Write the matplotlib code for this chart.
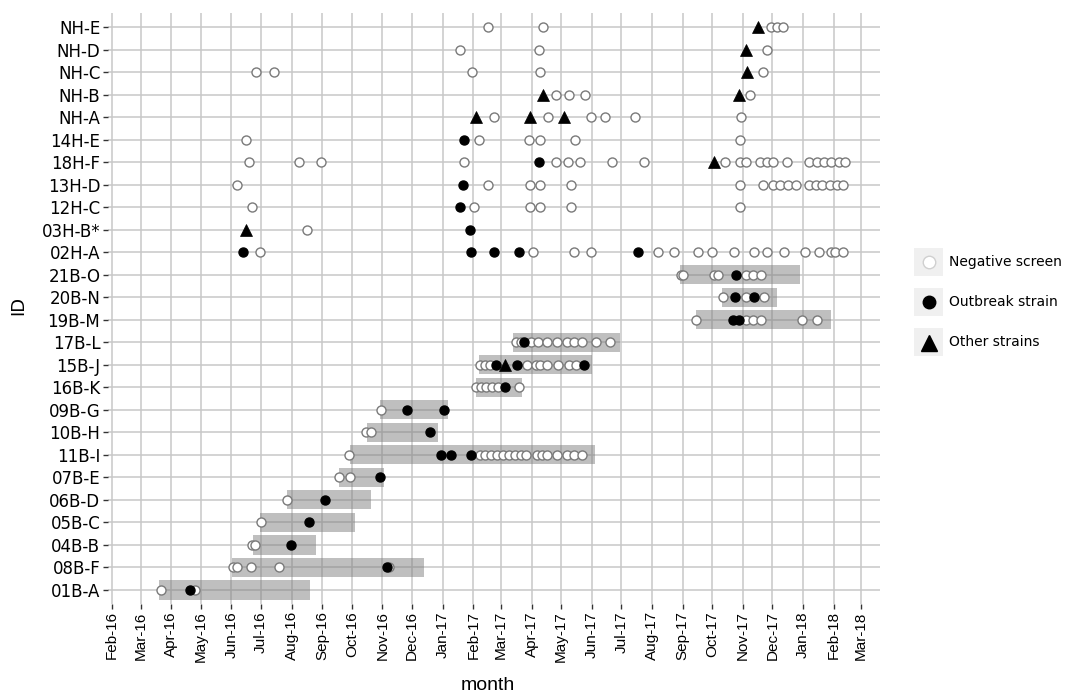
import matplotlib
matplotlib.use('Agg')
import matplotlib.pyplot as plt
import matplotlib.dates as mdates
from matplotlib.patches import Rectangle
import pandas as pd

# rows, bottom to top
ids = ['01B-A', '08B-F', '04B-B', '05B-C', '06B-D', '07B-E', '11B-I', '10B-H', '09B-G',
       '16B-K', '15B-J', '17B-L', '19B-M', '20B-N', '21B-O', '02H-A', '03H-B*', '12H-C',
       '13H-D', '18H-F', '14H-E', 'NH-A', 'NH-B', 'NH-C', 'NH-D', 'NH-E']

# admission periods (grey bars)
stay_ids = ['01B-A', '08B-F', '04B-B', '05B-C', '06B-D', '07B-E', '11B-I', '10B-H',
            '09B-G', '16B-K', '15B-J', '17B-L', '19B-M', '20B-N', '21B-O']
stay_start = ['2016-03-20', '2016-06-02', '2016-06-23', '2016-06-30', '2016-07-27', '2016-09-18',
              '2016-09-29', '2016-10-16', '2016-10-30', '2017-02-04', '2017-02-07', '2017-03-13',
              '2017-09-15', '2017-10-11', '2017-08-29']
stay_end = ['2016-08-20', '2016-12-13', '2016-08-26', '2016-10-04', '2016-10-20', '2016-11-03',
            '2017-06-04', '2016-12-27', '2017-01-06', '2017-03-22', '2017-06-01', '2017-06-30',
            '2018-01-29', '2017-12-06', '2017-12-29']

negative = {
    '01B-A': ['2016-03-22', '2016-04-25'],
    '08B-F': ['2016-06-03', '2016-06-07', '2016-06-21', '2016-07-19', '2016-11-08'],
    '04B-B': ['2016-06-22', '2016-06-25'],
    '05B-C': ['2016-07-01'],
    '06B-D': ['2016-07-27'],
    '07B-E': ['2016-09-18', '2016-09-29'],
    '11B-I': ['2016-09-28', '2017-02-08', '2017-02-13', '2017-02-19', '2017-02-25', '2017-03-03',
              '2017-03-09', '2017-03-15', '2017-03-21', '2017-03-26', '2017-04-07', '2017-04-12',
              '2017-04-17', '2017-04-27', '2017-05-07', '2017-05-14', '2017-05-22'],
    '10B-H': ['2016-10-15', '2016-10-20'],
    '09B-G': ['2016-10-31'],
    '16B-K': ['2017-02-04', '2017-02-09', '2017-02-14', '2017-02-20', '2017-02-26', '2017-03-19'],
    '15B-J': ['2017-02-08', '2017-02-13', '2017-02-18', '2017-03-27', '2017-04-06', '2017-04-10',
              '2017-04-17', '2017-04-28', '2017-05-09', '2017-05-16'],
    '17B-L': ['2017-03-16', '2017-03-21', '2017-03-31', '2017-04-08', '2017-04-17', '2017-04-27',
              '2017-05-07', '2017-05-14', '2017-05-22', '2017-06-05', '2017-06-20'],
    '19B-M': ['2017-09-15', '2017-11-04', '2017-11-11', '2017-11-19', '2017-12-31', '2018-01-15'],
    '20B-N': ['2017-10-12', '2017-11-04', '2017-11-22'],
    '21B-O': ['2017-08-30', '2017-09-01', '2017-10-03', '2017-10-07', '2017-11-04', '2017-11-11',
              '2017-11-19'],
    '02H-A': ['2016-06-30', '2017-04-02', '2017-05-14', '2017-05-31', '2017-08-07', '2017-08-23',
              '2017-09-17', '2017-10-01', '2017-10-23', '2017-11-12', '2017-11-26', '2017-12-13',
              '2018-01-03', '2018-01-17', '2018-01-29', '2018-02-02', '2018-02-11'],
    '03H-B*': ['2016-08-17'],
    '12H-C': ['2016-06-22', '2017-02-02', '2017-03-30', '2017-04-10', '2017-05-11', '2017-10-29'],
    '13H-D': ['2016-06-07', '2017-02-16', '2017-03-30', '2017-04-10', '2017-05-11', '2017-10-29',
              '2017-11-21', '2017-12-02', '2017-12-09', '2017-12-17', '2017-12-25', '2018-01-07',
              '2018-01-14', '2018-01-20', '2018-01-28', '2018-02-04', '2018-02-11'],
    '18H-F': ['2016-06-19', '2016-08-08', '2016-08-31', '2017-01-23', '2017-04-26', '2017-05-08',
              '2017-05-20', '2017-06-22', '2017-07-24', '2017-10-14', '2017-10-29', '2017-11-04',
              '2017-11-18', '2017-11-26', '2017-12-02', '2017-12-16', '2018-01-07', '2018-01-15',
              '2018-01-22', '2018-01-29', '2018-02-06', '2018-02-13'],
    '14H-E': ['2016-06-16', '2017-02-07', '2017-03-29', '2017-04-10', '2017-05-15', '2017-10-29'],
    'NH-A': ['2017-02-22', '2017-04-18', '2017-05-31', '2017-06-14', '2017-07-15', '2017-10-30'],
    'NH-B': ['2017-04-26', '2017-05-09', '2017-05-25', '2017-11-08'],
    'NH-C': ['2016-06-26', '2016-07-14', '2017-01-31', '2017-04-10', '2017-11-21'],
    'NH-D': ['2017-01-19', '2017-04-09', '2017-11-26'],
    'NH-E': ['2017-02-16', '2017-04-13', '2017-11-30', '2017-12-06', '2017-12-12'],
}

outbreak = {
    '01B-A': ['2016-04-20'],
    '08B-F': ['2016-11-06'],
    '04B-B': ['2016-07-31'],
    '05B-C': ['2016-08-19'],
    '06B-D': ['2016-09-04'],
    '07B-E': ['2016-10-30'],
    '11B-I': ['2016-12-30', '2017-01-09', '2017-01-30'],
    '10B-H': ['2016-12-19'],
    '09B-G': ['2016-11-26', '2017-01-02'],
    '16B-K': ['2017-03-05'],
    '15B-J': ['2017-02-24', '2017-03-17', '2017-05-24'],
    '17B-L': ['2017-03-24'],
    '19B-M': ['2017-10-22', '2017-10-28'],
    '20B-N': ['2017-10-24', '2017-11-12'],
    '21B-O': ['2017-10-25'],
    '02H-A': ['2016-06-13', '2017-01-30', '2017-02-22', '2017-03-19', '2017-07-18'],
    '03H-B*': ['2017-01-29'],
    '12H-C': ['2017-01-19'],
    '13H-D': ['2017-01-22'],
    '18H-F': ['2017-04-09'],
    '14H-E': ['2017-01-23'],
}

other = {
    '03H-B*': ['2016-06-16'],
    '15B-J': ['2017-03-05'],
    '18H-F': ['2017-10-03'],
    'NH-A': ['2017-02-04', '2017-03-30', '2017-05-04'],
    'NH-B': ['2017-04-13', '2017-10-28'],
    'NH-C': ['2017-11-05'],
    'NH-D': ['2017-11-04'],
    'NH-E': ['2017-11-16'],
}

W, H = 1065, 695
fig = plt.figure(figsize=(W / 100, H / 100), dpi=100)
L, R, T, B = 108, 880, 13.5, 603.5
ax = fig.add_axes([L / W, 1 - B / H, (R - L) / W, (B - T) / H])

ypos = {n: i for i, n in enumerate(ids)}

def dnum(lst):
    return mdates.date2num(pd.to_datetime(lst))

# bars
for n, s, e in zip(stay_ids, stay_start, stay_end):
    s0, e0 = dnum([s])[0], dnum([e])[0]
    ax.barh(ypos[n], e0 - s0, left=s0, height=0.85, color='#808080', alpha=0.5,
            linewidth=0, zorder=2)

for n, d in negative.items():
    x = dnum(d)
    ax.plot(x, [ypos[n]] * len(x), 'o', ms=6.5, mfc='white', mec='#7a7a7a', mew=1.0,
            ls='none', zorder=3)
for n, d in outbreak.items():
    x = dnum(d)
    ax.plot(x, [ypos[n]] * len(x), 'o', ms=6.5, mfc='black', mec='black', mew=1.0,
            ls='none', zorder=4)
for n, d in other.items():
    x = dnum(d)
    ax.plot(x, [ypos[n]] * len(x), '^', ms=9, mfc='black', mec='black', mew=0.5,
            ls='none', zorder=5)

months = pd.date_range('2016-02-01', '2018-03-01', freq='MS')
ax.set_xticks(mdates.date2num(months))
ax.set_xticklabels([m.strftime('%b-%y') for m in months], rotation=90,
                   fontsize=11, family=['Liberation Sans Narrow', 'Liberation Sans'])
ax.set_xlim(dnum(['2016-01-28'])[0], dnum(['2018-03-20'])[0])
ax.set_yticks(range(len(ids)))
ax.set_yticklabels(ids, fontsize=12)
ax.set_ylim(-0.6, len(ids) - 0.4)
ax.grid(True, color='#c8c8c8', lw=1.1)
ax.set_axisbelow(True)
for sp in ax.spines.values():
    sp.set_visible(False)
ax.tick_params(length=3.5, width=1, color='#333333', pad=2)
# the two H rows have faint ticks in the original
for n in ['02H-A', '03H-B*']:
    ax.yaxis.get_major_ticks()[ypos[n]].tick1line.set_color('#c8c8c8')

fig.text(488 / W, 1 - 685 / H, 'month', ha='center', va='center', fontsize=14,
         family=['Liberation Sans Narrow', 'Liberation Sans'])
fig.text(18 / W, 1 - 305 / H, 'ID', ha='center', va='center', rotation=90, fontsize=13)

# legend
lax = fig.add_axes([0, 0, 1, 1])
lax.set_xlim(0, W)
lax.set_ylim(H, 0)
lax.axis('off')
labels = ['Negative screen', 'Outbreak strain', 'Other strains']
for i, lab in enumerate(labels):
    cy = 262 + 40 * i
    lax.add_patch(Rectangle((914, cy - 14), 29, 28, color='#f0f0f0', lw=0))
    lax.text(949, cy, lab, va='center', ha='left', fontsize=10)
lax.plot([928.5], [262], 'o', ms=9, mfc='white', mec='#d0d0d0', mew=1)
lax.plot([928.5], [302], 'o', ms=9, mfc='black', mec='black')
lax.plot([928.5], [343], '^', ms=12, mfc='black', mec='black')

fig.savefig('out.png', dpi=100)
